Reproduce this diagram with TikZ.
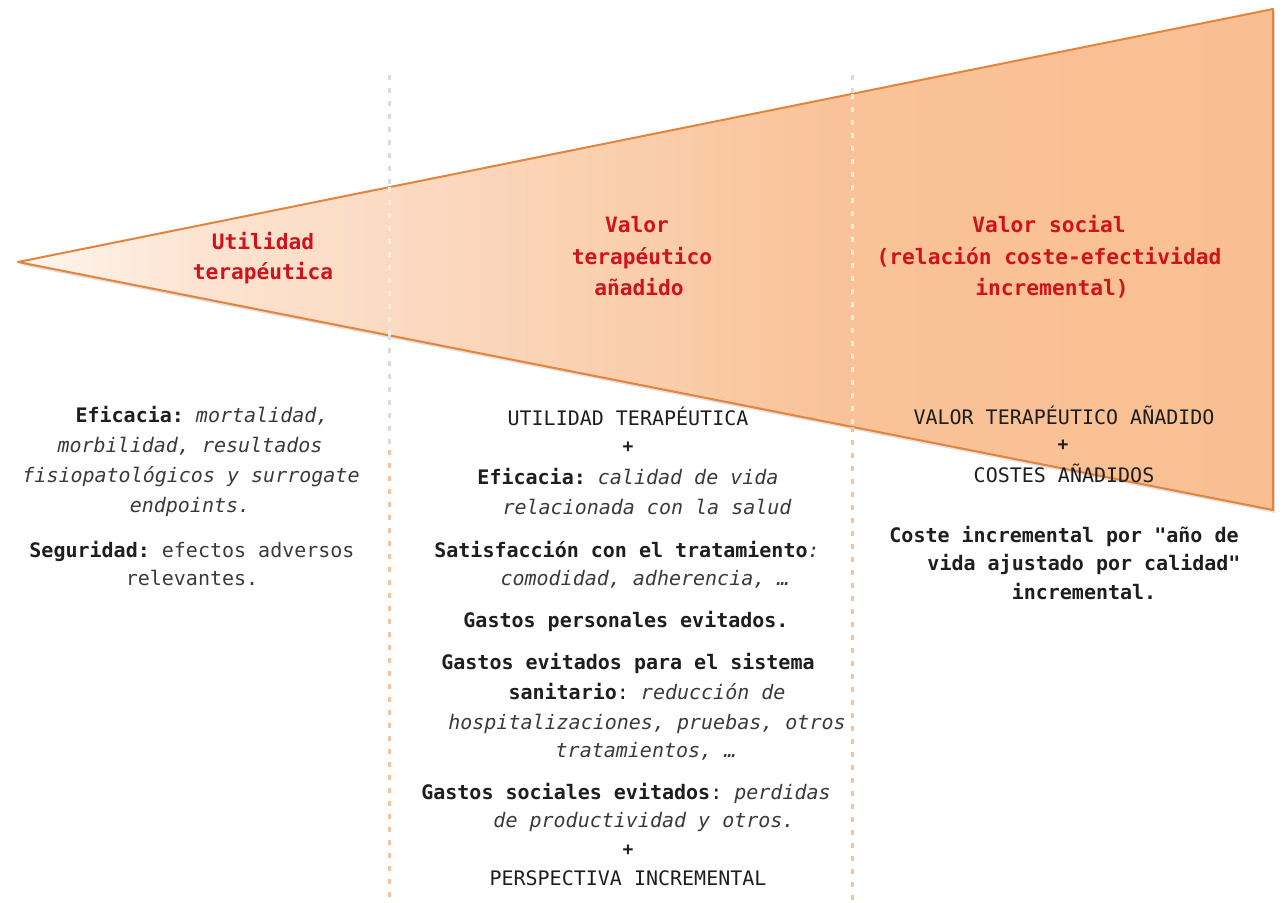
\documentclass[tikz,border=0pt]{standalone}
\usepackage{fontspec}
\setmonofont{DejaVu Sans Mono}
\definecolor{edgeor}{HTML}{E3843A}
\definecolor{headred}{HTML}{D0121B}
\definecolor{ink}{HTML}{1E1E1E}
\definecolor{inkit}{HTML}{3A3A3A}
\definecolor{gdgray}{HTML}{D9DCE0}
\definecolor{gdpeach}{HTML}{F3C4A0}
\definecolor{gdwhite}{HTML}{FDEBDD}
\definecolor{sc0}{HTML}{FFF6EF}
\definecolor{sc1}{HTML}{FDE4D2}
\definecolor{sc2}{HTML}{FBDAC2}
\definecolor{sc3}{HTML}{FAD0B0}
\definecolor{sc4}{HTML}{F9C298}
\definecolor{sc5}{HTML}{F9BF91}
\pgfdeclarehorizontalshading{trishade}{100bp}{color(0bp)=(sc0); color(25bp)=(sc0); color(32bp)=(sc1); color(40bp)=(sc2); color(48bp)=(sc3); color(58bp)=(sc4); color(75bp)=(sc5); color(100bp)=(sc5)}
\begin{document}
\begin{tikzpicture}[x=0.5pt,y=-0.5pt,
  body/.style={font=\ttfamily\fontsize{10}{12}\selectfont, inner sep=0pt, anchor=base, text=ink},
  plus/.style={font=\ttfamily\bfseries\fontsize{9}{10}\selectfont, inner sep=0pt, anchor=center, text=ink},
  head/.style={font=\ttfamily\bfseries\fontsize{10.6}{12}\selectfont, inner sep=0pt, anchor=base, text=headred},
  guide/.style={line width=1.5pt, dash pattern=on 2.5pt off 4pt}]
\useasboundingbox (0,0) rectangle (1283,902);
% triangle
\coordinate (tip) at (18,262);
\coordinate (tr) at (1273,9);
\coordinate (br) at (1273,510);
\fill[black, opacity=0.12] ([shift={(2,3)}]tip) -- ([shift={(2,3)}]tr) -- ([shift={(2,3)}]br) -- cycle;
\path[shading=trishade, draw=edgeor, line width=1pt, line join=round] (tip) -- (tr) -- (br) -- cycle;
% guides
\coordinate (ga0) at (389,75);
\coordinate (ga1) at (389,187);
\coordinate (ga2) at (389,335);
\coordinate (ga3) at (389,450);
\coordinate (ga4) at (389,902);
\coordinate (gb0) at (852,75);
\coordinate (gb1) at (852,94);
\coordinate (gb2) at (852,427);
\coordinate (gb4) at (852,902);
\draw[guide, gdgray] (ga0) -- (ga1);
\draw[guide, gdwhite] (ga1) -- (ga2);
\draw[guide, gdgray] (ga2) -- (ga3);
\draw[guide, gdpeach] (ga3) -- (ga4);
\draw[guide, gdgray] (gb0) -- (gb1);
\draw[guide, gdwhite] (gb1) -- (gb2);
\draw[guide, gdpeach] (gb2) -- (gb4);
% headings
\node[head] (h1a) at (263,249) {Utilidad};
\node[head] (h1b) at (263,279) {terapéutica};
\node[head] (h2a) at (637,232) {Valor};
\node[head] (h2b) at (642,264) {terapéutico};
\node[head] (h2c) at (639,295) {añadido};
\node[head] (h3a) at (1049,232) {Valor social};
\node[head] (h3b) at (1049,264) {(relación coste-efectividad};
\node[head] (h3c) at (1052,295) {incremental)};
% left column
\node[body] (l1) at (202,422) {\textbf{Eficacia:} \textcolor{inkit}{\itshape mortalidad,}};
\node[body] (l2) at (190,452) {\textcolor{inkit}{\itshape morbilidad, resultados}};
\node[body] (l3) at (191,482) {\textcolor{inkit}{\itshape fisiopatológicos y surrogate}};
\node[body] (l4) at (190,512) {\textcolor{inkit}{\itshape endpoints.}};
\node[body] (l5) at (192,557) {\textbf{Seguridad:} \textcolor{inkit}{efectos adversos}};
\node[body] (l6) at (192,585) {\textcolor{inkit}{relevantes.}};
% middle column
\node[body] (m1) at (628,425) {UTILIDAD TERAPÉUTICA};
\node[plus] (m2) at (628,447) {+};
\node[body] (m3) at (628,484) {\textbf{Eficacia:} \textcolor{inkit}{\itshape calidad de vida}};
\node[body] (m4) at (647,514) {\textcolor{inkit}{\itshape relacionada con la salud}};
\node[body] (m5) at (627,557) {\textbf{Satisfacción con el tratamiento}\textcolor{inkit}{\itshape :}};
\node[body] (m6) at (645,585) {\textcolor{inkit}{\itshape comodidad, adherencia, …}};
\node[body] (m7) at (626,627) {\textbf{Gastos personales evitados.}};
\node[body] (m8) at (628,669) {\textbf{Gastos evitados para el sistema}};
\node[body] (m9) at (647,699) {\textbf{sanitario}: \textcolor{inkit}{\itshape reducción de}};
\node[body] (m10) at (647,729) {\textcolor{inkit}{\itshape hospitalizaciones, pruebas, otros}};
\node[body] (m11) at (646,757) {\textcolor{inkit}{\itshape tratamientos, …}};
\node[body] (m12) at (626,799) {\textbf{Gastos sociales evitados}: \textcolor{inkit}{\itshape perdidas}};
\node[body] (m13) at (644,827) {\textcolor{inkit}{\itshape de productividad y otros.}};
\node[plus] (m14) at (628,850) {+};
\node[body] (m15) at (628,885) {PERSPECTIVA INCREMENTAL};
% right column
\node[body] (r1) at (1064,424) {VALOR TERAPÉUTICO AÑADIDO};
\node[plus] (r2) at (1063,445) {+};
\node[body] (r3) at (1064,482) {COSTES AÑADIDOS};
\node[body] (r4) at (1064,542) {\textbf{Coste incremental por "año de}};
\node[body] (r5) at (1084,570) {\textbf{vida ajustado por calidad"}};
\node[body] (r6) at (1084,599) {\textbf{incremental.}};
\end{tikzpicture}
\end{document}
